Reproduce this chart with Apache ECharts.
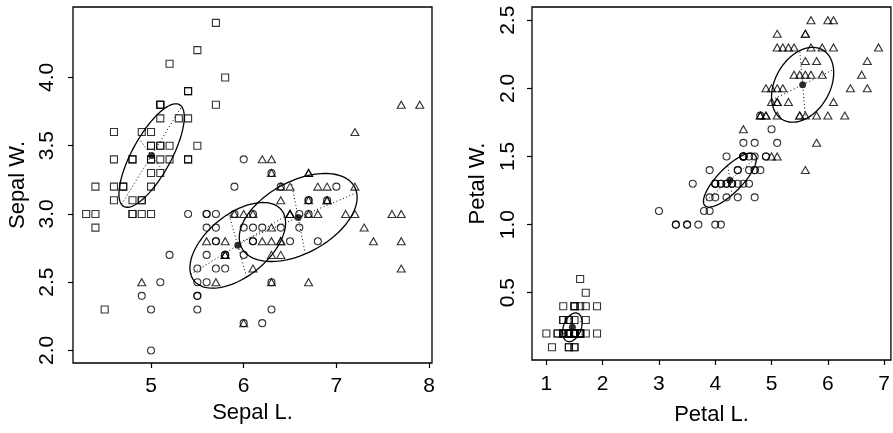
<!DOCTYPE html>
<html>
<head>
<meta charset="utf-8">
<script src="https://cdn.jsdelivr.net/npm/echarts@6.0.0/dist/echarts.min.js"></script>
<style>
  html, body { margin: 0; padding: 0; background: #fff; }
  #chart { width: 893px; height: 433px; }
</style>
</head>
<body>
<div id="chart"></div>
<script>
// Iris data, three species, 50 flowers each
const setosaSepalL = [5.1,4.9,4.7,4.6,5.0,5.4,4.6,5.0,4.4,4.9,5.4,4.8,4.8,4.3,5.8,5.7,5.4,5.1,5.7,5.1,5.4,5.1,4.6,5.1,4.8,5.0,5.0,5.2,5.2,4.7,4.8,5.4,5.2,5.5,4.9,5.0,5.5,4.9,4.4,5.1,5.0,4.5,4.4,5.0,5.1,4.8,5.1,4.6,5.3,5.0];
const setosaSepalW = [3.5,3.0,3.2,3.1,3.6,3.9,3.4,3.4,2.9,3.1,3.7,3.4,3.0,3.0,4.0,4.4,3.9,3.5,3.8,3.8,3.4,3.7,3.6,3.3,3.4,3.0,3.4,3.5,3.4,3.2,3.1,3.4,4.1,4.2,3.1,3.2,3.5,3.6,3.0,3.4,3.5,2.3,3.2,3.5,3.8,3.0,3.8,3.2,3.7,3.3];
const setosaPetalL = [1.4,1.4,1.3,1.5,1.4,1.7,1.4,1.5,1.4,1.5,1.5,1.6,1.4,1.1,1.2,1.5,1.3,1.4,1.7,1.5,1.7,1.5,1.0,1.7,1.9,1.6,1.6,1.5,1.4,1.6,1.6,1.5,1.5,1.4,1.5,1.2,1.3,1.4,1.3,1.5,1.3,1.3,1.3,1.6,1.9,1.4,1.6,1.4,1.5,1.4];
const setosaPetalW = [0.2,0.2,0.2,0.2,0.2,0.4,0.3,0.2,0.2,0.1,0.2,0.2,0.1,0.1,0.2,0.4,0.4,0.3,0.3,0.3,0.2,0.4,0.2,0.5,0.2,0.2,0.4,0.2,0.2,0.2,0.2,0.4,0.1,0.2,0.2,0.2,0.2,0.1,0.2,0.2,0.3,0.3,0.2,0.6,0.4,0.3,0.2,0.2,0.2,0.2];

const versicolorSepalL = [7.0,6.4,6.9,5.5,6.5,5.7,6.3,4.9,6.6,5.2,5.0,5.9,6.0,6.1,5.6,6.7,5.6,5.8,6.2,5.6,5.9,6.1,6.3,6.1,6.4,6.6,6.8,6.7,6.0,5.7,5.5,5.5,5.8,6.0,5.4,6.0,6.7,6.3,5.6,5.5,5.5,6.1,5.8,5.0,5.6,5.7,5.7,6.2,5.1,5.7];
const versicolorSepalW = [3.2,3.2,3.1,2.3,2.8,2.8,3.3,2.4,2.9,2.7,2.0,3.0,2.2,2.9,2.9,3.1,3.0,2.7,2.2,2.5,3.2,2.8,2.5,2.8,2.9,3.0,2.8,3.0,2.9,2.6,2.4,2.4,2.7,2.7,3.0,3.4,3.1,2.3,3.0,2.5,2.6,3.0,2.6,2.3,2.7,3.0,2.9,2.9,2.5,2.8];
const versicolorPetalL = [4.7,4.5,4.9,4.0,4.6,4.5,4.7,3.3,4.6,3.9,3.5,4.2,4.0,4.7,3.6,4.4,4.5,4.1,4.5,3.9,4.8,4.0,4.9,4.7,4.3,4.4,4.8,5.0,4.5,3.5,3.8,3.7,3.9,5.1,4.5,4.5,4.7,4.4,4.1,4.0,4.4,4.6,4.0,3.3,4.2,4.2,4.2,4.3,3.0,4.1];
const versicolorPetalW = [1.4,1.5,1.5,1.3,1.5,1.3,1.6,1.0,1.3,1.4,1.0,1.5,1.0,1.4,1.3,1.4,1.5,1.0,1.5,1.1,1.8,1.3,1.5,1.2,1.3,1.4,1.4,1.7,1.5,1.0,1.1,1.0,1.2,1.6,1.5,1.6,1.5,1.3,1.3,1.3,1.2,1.4,1.2,1.0,1.3,1.2,1.3,1.3,1.1,1.3];

const virginicaSepalL = [6.3,5.8,7.1,6.3,6.5,7.6,4.9,7.3,6.7,7.2,6.5,6.4,6.8,5.7,5.8,6.4,6.5,7.7,7.7,6.0,6.9,5.6,7.7,6.3,6.7,7.2,6.2,6.1,6.4,7.2,7.4,7.9,6.4,6.3,6.1,7.7,6.3,6.4,6.0,6.9,6.7,6.9,5.8,6.8,6.7,6.7,6.3,6.5,6.2,5.9];
const virginicaSepalW = [3.3,2.7,3.0,2.9,3.0,3.0,2.5,2.9,2.5,3.6,3.2,2.7,3.0,2.5,2.8,3.2,3.0,3.8,2.6,2.2,3.2,2.8,2.8,2.7,3.3,3.2,2.8,3.0,2.8,3.0,2.8,3.8,2.8,2.8,2.6,3.0,3.4,3.1,3.0,3.1,3.1,3.1,2.7,3.2,3.3,3.0,2.5,3.0,3.4,3.0];
const virginicaPetalL = [6.0,5.1,5.9,5.6,5.8,6.6,4.5,6.3,5.8,6.1,5.1,5.3,5.5,5.0,5.1,5.3,5.5,6.7,6.9,5.0,5.7,4.9,6.7,4.9,5.7,6.0,4.8,4.9,5.6,5.8,6.1,6.4,5.6,5.1,5.6,6.1,5.6,5.5,4.8,5.4,5.6,5.1,5.1,5.9,5.7,5.2,5.0,5.2,5.4,5.1];
const virginicaPetalW = [2.5,1.9,2.1,1.8,2.2,2.1,1.7,1.8,1.8,2.5,2.0,1.9,2.1,2.0,2.4,2.3,1.8,2.2,2.3,1.5,2.3,2.0,2.0,1.8,2.1,1.8,1.8,1.8,2.1,1.6,1.9,2.0,2.2,1.5,1.4,2.3,2.4,1.8,1.8,2.1,2.4,2.3,1.9,2.3,2.5,2.3,1.9,2.0,2.3,1.8];

const sepalTicksX = [5, 6, 7, 8];
const sepalTicksY = [2.0, 2.5, 3.0, 3.5, 4.0];
const petalTicksX = [1, 2, 3, 4, 5, 6, 7];
const petalTicksY = [0.5, 1.0, 1.5, 2.0, 2.5];

const FONT = '"Liberation Sans", Arial, Helvetica, sans-serif';

// panel 0 = sepal, panel 1 = petal
const panels = [
  { groups: [[setosaSepalL, setosaSepalW], [versicolorSepalL, versicolorSepalW], [virginicaSepalL, virginicaSepalW]] },
  { groups: [[setosaPetalL, setosaPetalW], [versicolorPetalL, versicolorPetalW], [virginicaPetalL, virginicaPetalW]] }
];
const symbols = [['rect', 7], ['circle', 7], ['triangle', [8, 7]]];

// mean and covariance of one group
function stats(xs, ys) {
  const n = xs.length;
  const mx = xs.reduce((s, v) => s + v, 0) / n;
  const my = ys.reduce((s, v) => s + v, 0) / n;
  let a = 0, b = 0, c = 0;
  for (let i = 0; i < n; i++) {
    a += (xs[i] - mx) * (xs[i] - mx);
    b += (xs[i] - mx) * (ys[i] - my);
    c += (ys[i] - my) * (ys[i] - my);
  }
  a /= n - 1; b /= n - 1; c /= n - 1;
  const th = 0.5 * Math.atan2(2 * b, a - c);
  const d = Math.sqrt(((a - c) / 2) ** 2 + b * b);
  const l1 = Math.sqrt((a + c) / 2 + d), l2 = Math.sqrt(Math.max((a + c) / 2 - d, 0));
  return { mx, my, th, l1, l2 };
}

function ellipseRender(st) {
  return function (params, api) {
    const s = st[params.dataIndex];
    const ct = Math.cos(s.th), sn = Math.sin(s.th);
    const pts = [];
    for (let k = 0; k <= 120; k++) {
      const t = k / 120 * 2 * Math.PI;
      const u = s.l1 * Math.cos(t), v = s.l2 * Math.sin(t);
      pts.push(api.coord([s.mx + u * ct - v * sn, s.my + u * sn + v * ct]));
    }
    const p1 = api.coord([s.mx - s.l1 * ct, s.my - s.l1 * sn]);
    const p2 = api.coord([s.mx + s.l1 * ct, s.my + s.l1 * sn]);
    const q1 = api.coord([s.mx + s.l2 * sn, s.my - s.l2 * ct]);
    const q2 = api.coord([s.mx - s.l2 * sn, s.my + s.l2 * ct]);
    const dot = { stroke: '#000', lineWidth: 1, lineDash: [1, 2.5] };
    return {
      type: 'group',
      children: [
        { type: 'polyline', shape: { points: pts }, style: { stroke: '#000', lineWidth: 1.3, fill: null } },
        { type: 'line', shape: { x1: p1[0], y1: p1[1], x2: p2[0], y2: p2[1] }, style: dot },
        { type: 'line', shape: { x1: q1[0], y1: q1[1], x2: q2[0], y2: q2[1] }, style: dot }
      ]
    };
  };
}

function xAxisFor(gi, min, max, ticks, name, gap, margin) {
  return {
    type: 'value', gridIndex: gi, min: min, max: max,
    name: name, nameLocation: 'middle', nameGap: gap,
    nameTextStyle: { fontSize: 22, color: '#000', fontFamily: FONT },
    axisLine: { show: false },
    axisTick: { show: true, length: 5, customValues: ticks, lineStyle: { color: '#000', width: 1.2 } },
    axisLabel: { customValues: ticks, fontSize: 21, color: '#000', fontFamily: FONT, margin: margin },
    splitLine: { show: false }
  };
}
function yAxisFor(gi, min, max, ticks, name, gap, margin) {
  return {
    type: 'value', gridIndex: gi, min: min, max: max,
    name: name, nameLocation: 'middle', nameGap: gap,
    nameTextStyle: { fontSize: 22, color: '#000', fontFamily: FONT },
    axisLine: { show: false },
    axisTick: { show: true, length: 5, customValues: ticks, lineStyle: { color: '#000', width: 1.2 } },
    axisLabel: { customValues: ticks, rotate: 90, fontSize: 21, color: '#000', fontFamily: FONT, margin: margin,
      formatter: v => v.toFixed(1) },
    splitLine: { show: false }
  };
}

const series = [];
panels.forEach((p, gi) => {
  const st = p.groups.map(g => stats(g[0], g[1]));
  p.groups.forEach((g, k) => {
    series.push({
      type: 'scatter', xAxisIndex: gi, yAxisIndex: gi,
      symbol: symbols[k][0], symbolSize: symbols[k][1],
      itemStyle: { color: 'rgba(0,0,0,0)', borderColor: '#000', borderWidth: 1.1 },
      data: g[0].map((x, i) => [x, g[1][i]]),
      silent: true, z: 2
    });
  });
  series.push({
    type: 'custom', xAxisIndex: gi, yAxisIndex: gi,
    renderItem: ellipseRender(st),
    data: st.map(s => [s.mx, s.my]),
    silent: true, z: 3
  });
  series.push({
    type: 'scatter', xAxisIndex: gi, yAxisIndex: gi,
    symbol: 'circle', symbolSize: 7,
    itemStyle: { color: '#000' },
    data: st.map(s => [s.mx, s.my]),
    silent: true, z: 4
  });
});

const chart = echarts.init(document.getElementById('chart'));
chart.setOption({
  animation: false,
  backgroundColor: '#fff',
  grid: [
    { left: 73, top: 7, width: 359, height: 356, show: true, borderColor: '#000', borderWidth: 1.3 },
    { left: 532, top: 7, width: 359, height: 353, show: true, borderColor: '#000', borderWidth: 1.3 }
  ],
  xAxis: [
    xAxisFor(0, 4.158, 8.032, sepalTicksX, 'Sepal L.', 38, 13),
    xAxisFor(1, 0.745, 7.12, petalTicksX, 'Petal L.', 44, 14)
  ],
  yAxis: [
    yAxisFor(0, 1.908, 4.516, sepalTicksY, 'Sepal W.', 44, 15),
    yAxisFor(1, 0.006, 2.597, petalTicksY, 'Petal W.', 43, 13)
  ],
  series: series
});
</script>
</body>
</html>
